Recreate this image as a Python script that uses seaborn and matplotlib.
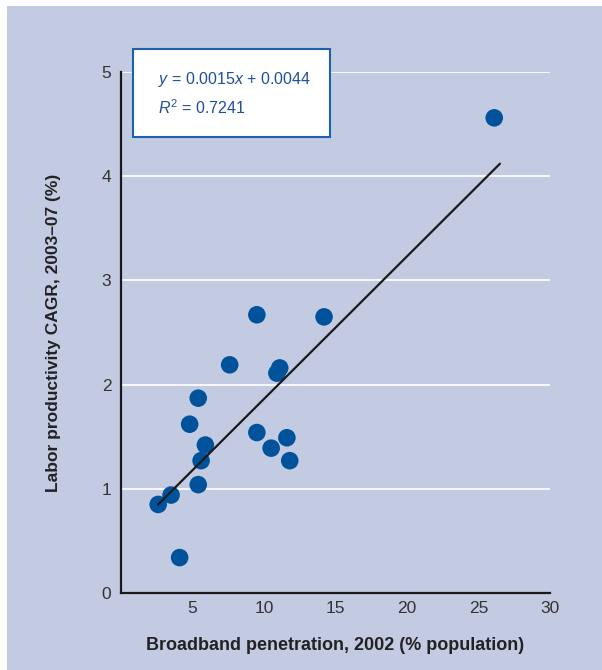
import numpy as np
import pandas as pd
import matplotlib
matplotlib.use("Agg")
import matplotlib.pyplot as plt
from matplotlib.patches import Rectangle
import seaborn as sns

# values
broadband = [2.6, 3.5, 4.1, 4.8, 5.4, 5.4, 5.6, 5.9, 7.6, 9.5, 9.5,
             10.5, 10.9, 11.1, 11.6, 11.8, 14.2, 26.1]
productivity = [0.85, 0.94, 0.34, 1.62, 1.87, 1.04, 1.27, 1.42, 2.19, 2.67, 1.54,
                1.39, 2.11, 2.16, 1.49, 1.27, 2.65, 4.56]
trend_x = [2.6, 26.5]
trend_y = [0.85, 4.12]
x_ticks = [5, 10, 15, 20, 25, 30]
y_ticks = [0, 1, 2, 3, 4, 5]
eq_text = r"$y$ = 0.0015$x$ + 0.0044"
r2_text = r"$R^{\mathrm{2}}$ = 0.7241"

df = pd.DataFrame({"broadband": broadband, "productivity": productivity})
trend = pd.DataFrame({"x": trend_x, "y": trend_y})

bg = "#c3cbe3"
blue = "#00529b"

sns.set_theme(style="white")
plt.rcParams["font.family"] = ["Liberation Sans", "DejaVu Sans"]
plt.rcParams["mathtext.fontset"] = "custom"
plt.rcParams["mathtext.rm"] = "Liberation Sans"
plt.rcParams["mathtext.it"] = "Liberation Sans:italic"

fig = plt.figure(figsize=(6.02, 6.70), dpi=100, facecolor="white")
fig.patches.append(Rectangle((7 / 602, 0), 1, 1 - 6 / 670, transform=fig.transFigure,
                             facecolor=bg, edgecolor="none", zorder=-10))
ax = fig.add_axes([121 / 602, 1 - 593 / 670, 429 / 602, 521 / 670])
ax.set_facecolor(bg)

ax.grid(axis="y", color="white", linewidth=1.2)
ax.set_axisbelow(True)

sns.scatterplot(data=df, x="broadband", y="productivity", ax=ax, color=blue,
                s=160, edgecolor="none", zorder=3)
sns.lineplot(data=trend, x="x", y="y", ax=ax, color="#1a1a1a", linewidth=1.6, zorder=4)

ax.set_xlim(0, 30)
ax.set_ylim(0, 5)
ax.set_xticks(x_ticks)
ax.set_yticks(y_ticks)
ax.set_xticklabels([str(t) for t in x_ticks])
ax.set_yticklabels([str(t) for t in y_ticks])

for s in ["top", "right"]:
    ax.spines[s].set_visible(False)
for s in ["left", "bottom"]:
    ax.spines[s].set_color("#1a1a1a")
    ax.spines[s].set_linewidth(1.6)

ax.tick_params(axis="x", direction="in", length=8, width=1.6, color="#1a1a1a",
               labelsize=12.5, labelcolor="#333333", pad=6)
ax.tick_params(axis="y", length=0, labelsize=12.5, labelcolor="#333333", pad=7)

ax.set_xlabel("Broadband penetration, 2002 (% population)", fontsize=13,
              fontweight="bold", color="#222222", labelpad=15)
ax.set_ylabel("Labor productivity CAGR, 2003\u201307 (%)", fontsize=12.5,
              fontweight="bold", color="#222222", labelpad=29)

# equation box
box = Rectangle((0.028, 0.875), 0.459, 0.169, transform=ax.transAxes,
                facecolor="white", edgecolor="#1f5fb0", linewidth=1.5,
                clip_on=False, zorder=5)
ax.add_patch(box)
ax.text(0.086, 0.985, eq_text, transform=ax.transAxes, fontsize=11.5,
        color="#1f4f9a", va="center", zorder=6)
ax.text(0.086, 0.931, r2_text, transform=ax.transAxes, fontsize=11.5,
        color="#1f4f9a", va="center", zorder=6)

fig.savefig("out.png", dpi=100, facecolor="white")
